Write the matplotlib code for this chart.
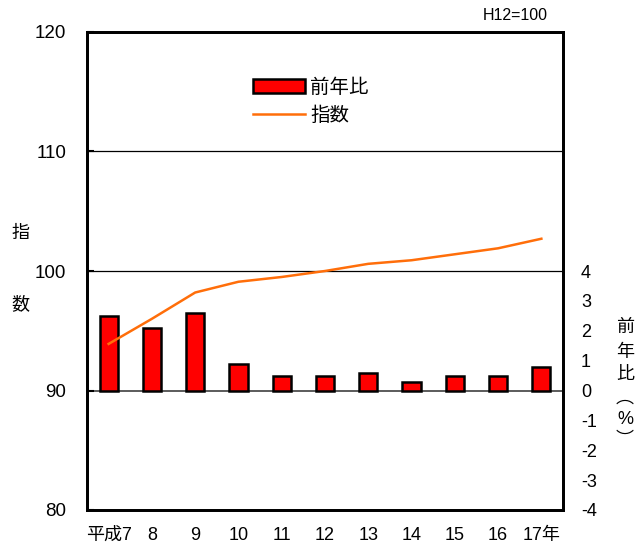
import matplotlib
matplotlib.use("Agg")
import matplotlib.pyplot as plt
import numpy as np
from matplotlib.patches import Patch
from matplotlib.lines import Line2D

plt.rcParams['font.family'] = ['Liberation Sans', 'Noto Sans CJK JP', 'DejaVu Sans']

years = ["平成7", "8", "9", "10", "11", "12", "13", "14", "15", "16", "17年"]
yoy = [2.5, 2.1, 2.6, 0.9, 0.5, 0.5, 0.6, 0.3, 0.5, 0.5, 0.8]
index = [93.9, 96.0, 98.2, 99.1, 99.5, 100.0, 100.6, 100.9, 101.4, 101.9, 102.7]
left_ticks = [80, 90, 100, 110, 120]
right_ticks = [-4, -3, -2, -1, 0, 1, 2, 3, 4]

fig = plt.figure(figsize=(6.37, 5.51), dpi=100)
ax = fig.add_axes([87/637, 1-510/551, (563-87)/637, (510-32)/551])
ax2 = ax.twinx()

x = np.arange(len(years))

# bars on right axis
ax2.bar(x, yoy, width=0.42, color='#FF0000', edgecolor='black', linewidth=1.8, zorder=3)
ax2.axhline(0, color='#404040', linewidth=1.2, zorder=2)
ax2.set_ylim(-4, 12)
ax2.set_yticks(right_ticks)
ax2.set_yticklabels([str(t) for t in right_ticks], fontsize=13)
ax2.tick_params(axis='y', direction='in', length=0, pad=13)

# line on left axis
ax.set_zorder(ax2.get_zorder() + 1)
ax.patch.set_visible(False)
ax.plot(x, index, color='#FF6E0A', linewidth=1.8, zorder=4)
for g in [100, 110]:
    ax.axhline(g, color='black', linewidth=0.9, zorder=1)
ax.set_ylim(80, 120)
ax.set_yticks(left_ticks)
ax.set_yticklabels([str(t) for t in left_ticks], fontsize=13.5)
ax.tick_params(axis='y', direction='in', length=5, width=1.5, pad=15)
ax.set_xlim(-0.5, len(years) - 0.5)
ax.set_xticks(x)
ax.set_xticklabels(years, fontsize=13)
ax.tick_params(axis='x', length=0, pad=12)

for a in (ax, ax2):
    for s in a.spines.values():
        s.set_linewidth(2)

# legend
handles = [Patch(facecolor='#FF0000', edgecolor='black', linewidth=1.8),
           Line2D([0], [0], color='#FF6E0A', linewidth=1.8)]
ax.legend(handles, ["前年比", "指数"], loc='upper left', bbox_to_anchor=(0.311, 0.939),
          frameon=False, fontsize=14, handlelength=2.7, handleheight=0.72,
          handletextpad=0.25, labelspacing=0.5)

fig.text(515/637, 1-15/551, "H12=100", fontsize=11.5, ha='center', va='center')
fig.text(20/637, 1-233/551, "指", fontsize=13, ha='center', va='center')
fig.text(20/637, 1-305/551, "数", fontsize=13, ha='center', va='center')
right_label = ["前", "年", "比", "︵", "%", "︶"]
ys = [327, 352, 375, 398, 420, 440]
for ch, yy in zip(right_label, ys):
    fig.text(625/637, 1-yy/551, ch, fontsize=13, ha='center', va='center')

fig.savefig("out.png", dpi=100)
